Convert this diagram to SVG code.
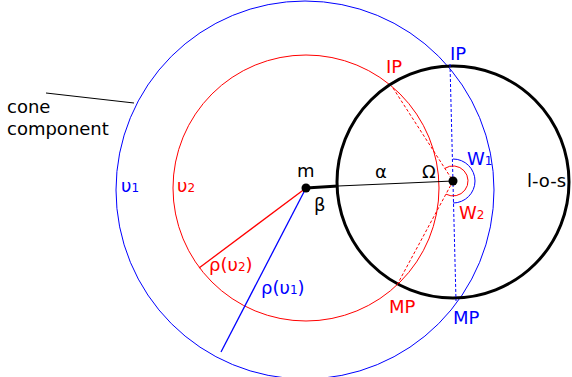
<svg xmlns="http://www.w3.org/2000/svg" width="572" height="377" viewBox="0 0 572 377">
<style>
text{font-family:"DejaVu Sans","Liberation Sans",sans-serif;font-size:18px}
.b{fill:#0000ff}.r{fill:#ff0000}.k{fill:#000}
.sub{font-size:12px}
.cb{fill:none;stroke:#0000ff;stroke-width:1}
.cr{fill:none;stroke:#ff0000;stroke-width:1}
.db{fill:none;stroke:#0000ff;stroke-width:1;stroke-dasharray:3,2}
.dr{fill:none;stroke:#ff0000;stroke-width:1;stroke-dasharray:3,2}
</style>
<rect width="572" height="377" fill="#fff"/>
<g id="cone-component">
<circle class="cb" cx="305" cy="190" r="189"/>
<text class="k" x="7" y="113">cone</text>
<text class="k" x="7" y="135">component</text>
</g>
<g id="u2-circle">
<circle class="cr" cx="306" cy="188" r="133"/>
</g>
<g id="los-circle">
<circle cx="453" cy="182" r="116" fill="none" stroke="#000" stroke-width="3"/>
<text class="k" x="527" y="187">l-o-s</text>
</g>
<g id="connectors">
<line x1="46" y1="93" x2="134" y2="103" stroke="#000" stroke-width="1"/>
<line x1="306" y1="188" x2="199" y2="268" stroke="#ff0000" stroke-width="1.3"/>
<line x1="306" y1="188" x2="221" y2="352" stroke="#0000ff" stroke-width="1.3"/>
<line x1="306" y1="188" x2="338" y2="186" stroke="#000" stroke-width="3"/>
<line x1="338" y1="186" x2="453" y2="181" stroke="#000" stroke-width="1.2"/>
<line class="db" x1="450" y1="64" x2="456" y2="301"/>
<line class="dr" x1="393" y1="88" x2="453" y2="181"/>
<line class="dr" x1="453" y1="181" x2="397" y2="285"/>
<path class="cb" d="M453 159 A22 22 0 0 1 453 203"/>
<path class="cr" d="M444.8 168.4 A15 15 0 1 1 446 194.2"/>
</g>
<g id="m">
<circle cx="306" cy="188" r="4.5" fill="#000"/>
<text class="k" x="297" y="177">m</text>
<text class="k" x="314" y="211">β</text>
</g>
<g id="omega">
<circle cx="453" cy="181" r="4.5" fill="#000"/>
<text class="k" x="422" y="178">Ω</text>
<text class="k" x="375" y="178">α</text>
<text class="b" x="467" y="165">W<tspan class="sub">1</tspan></text>
<text class="r" x="459" y="219">W<tspan class="sub">2</tspan></text>
</g>
<g id="labels">
<text class="b" x="450" y="60">IP</text>
<text class="r" x="386" y="73">IP</text>
<text class="r" x="389" y="313">MP</text>
<text class="b" x="453" y="324">MP</text>
<text class="b" x="121" y="192">υ<tspan class="sub">1</tspan></text>
<text class="r" x="177" y="192">υ<tspan class="sub">2</tspan></text>
<text class="r" x="209" y="271">ρ(υ<tspan class="sub">2</tspan>)</text>
<text class="b" x="261" y="294">ρ(υ<tspan class="sub">1</tspan>)</text>
</g>
</svg>
